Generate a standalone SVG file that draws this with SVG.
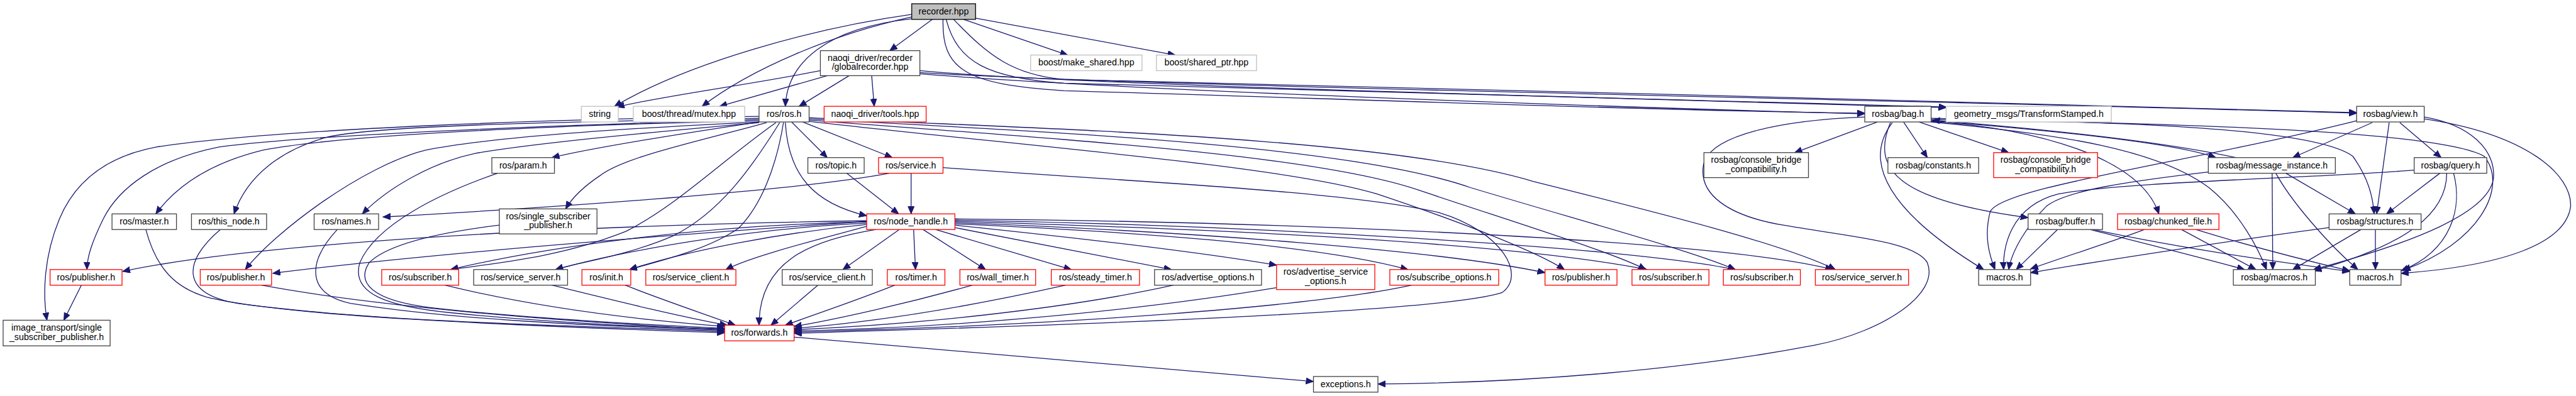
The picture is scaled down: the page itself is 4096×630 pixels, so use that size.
<svg xmlns="http://www.w3.org/2000/svg" width="4096" height="630" viewBox="0 0 4096 630">
<style>
.e{fill:none;stroke:#191970;stroke-width:1.3;marker-end:url(#a)}
.n rect{fill:#fff;stroke-width:1.3}
.k rect{stroke:#404040}
.r rect{stroke:#ff0000}
.g rect{stroke:#bfbfbf}
.root rect{fill:#bfbfbf;stroke:#000}
text{font-family:"Liberation Sans",Arial,sans-serif;font-size:14.3px;text-anchor:middle;fill:#000}
</style>
<defs>
<marker id="a" markerUnits="userSpaceOnUse" markerWidth="14" markerHeight="12" refX="12" refY="5" orient="auto"><path d="M0,0 L12,5 L0,10 z" fill="#191970" stroke="#191970" stroke-width="1"/></marker>
</defs>
<rect width="4096" height="630" fill="#fff"/>
<g transform="scale(0.995)">
<g id="edges">
<path class="e" d="M1490,31 L1422,81"/>
<path class="e" d="M1540,31 L1706,88"/>
<path class="e" d="M1559,29 L1878,88"/>
<path class="e" d="M1457,23 C1300,45 1100,100 982,170"/>
<path class="e" d="M1457,27 C1330,55 1200,110 1122,170"/>
<path class="e" d="M1457,30 C1320,45 1258,100 1255,170"/>
<path class="e" d="M1507,31 C1505,110 1540,135 1700,145 C2200,160 2700,178 2980,181"/>
<path class="e" d="M1512,31 C1530,100 1580,125 1700,133 C2200,148 2900,162 3110,172"/>
<path class="e" d="M1524,31 C1580,90 1620,120 1700,127 C2300,145 3200,160 3766,180"/>
<path class="e" d="M1311,113 C1200,135 1050,155 986,171"/>
<path class="e" d="M1322,121 L1150,170"/>
<path class="e" d="M1357,121 L1277,170"/>
<path class="e" d="M1393,121 L1397,170"/>
<path class="e" d="M1470,118 C1800,145 2600,172 2980,182"/>
<path class="e" d="M1470,113 C1700,135 2500,155 3110,171"/>
<path class="e" d="M1470,116 C1800,138 3000,158 3766,181"/>
<path class="e" d="M1213,186 C900,190 450,205 250,235 C170,250 120,290 95,350 C70,410 68,470 75,512"/>
<path class="e" d="M1213,191 C900,200 500,215 350,235 C250,255 190,300 165,350 C148,385 139,410 139,431"/>
<path class="e" d="M1213,193 C900,200 550,215 420,240 C330,262 280,300 249,342"/>
<path class="e" d="M1213,189 C900,195 600,200 520,220 C450,240 395,280 374,342"/>
<path class="e" d="M1213,195 C1000,205 780,220 680,240 C580,265 440,370 392,431"/>
<path class="e" d="M1213,196 C1000,215 850,230 760,245 C690,260 620,300 579,342"/>
<path class="e" d="M1213,195 C1100,212 950,235 882,252"/>
<path class="e" d="M1225,196 C1120,225 1000,250 960,280 C930,300 912,320 904,334"/>
<path class="e" d="M1240,196 C1150,260 1080,330 1000,370 C900,410 800,420 720,431"/>
<path class="e" d="M1246,196 C1200,270 1150,340 1076,377 C1000,410 920,420 888,431"/>
<path class="e" d="M1252,196 C1240,270 1215,330 1180,365 C1130,400 1050,418 1006,431"/>
<path class="e" d="M1255,196 C1260,280 1300,325 1385,345"/>
<path class="e" d="M1265,195 L1322,252"/>
<path class="e" d="M1283,195 L1426,252"/>
<path class="e" d="M1293,188 C1600,205 2200,215 2450,290 C2650,340 2850,390 2933,431"/>
<path class="e" d="M1293,190 C1650,210 2150,230 2350,300 C2550,360 2700,400 2773,431"/>
<path class="e" d="M1293,192 C1650,220 2100,245 2270,305 C2450,365 2580,405 2630,431"/>
<path class="e" d="M1293,194 C1650,235 2050,265 2200,310 C2350,360 2460,405 2500,431"/>
<path class="e" d="M1456,277 L1456,342"/>
<path class="e" d="M1353,277 L1436,342"/>
<path class="e" d="M1421,277 C1300,300 1000,325 612,347"/>
<path class="e" d="M1507,268 C1800,290 2150,305 2300,340 C2400,370 2440,440 2400,468 C2300,500 1700,520 1269,533"/>
<path class="e" d="M1460,367 L1463,431"/>
<path class="e" d="M1475,367 L1575,431"/>
<path class="e" d="M1495,367 L1712,431"/>
<path class="e" d="M1526,364 L1872,431"/>
<path class="e" d="M1526,360 C1700,378 1900,400 2040,424"/>
<path class="e" d="M1526,358 C1800,370 2100,390 2250,431"/>
<path class="e" d="M1526,356 C1900,370 2300,400 2469,436"/>
<path class="e" d="M1526,354 C1900,365 2400,385 2632,431"/>
<path class="e" d="M1526,352 C2000,360 2600,395 2773,431"/>
<path class="e" d="M1526,350 C2100,355 2750,385 2929,431"/>
<path class="e" d="M1437,367 L1347,431"/>
<path class="e" d="M1385,362 C1300,385 1200,410 1160,431"/>
<path class="e" d="M1385,359 C1250,372 1100,400 1006,431"/>
<path class="e" d="M1385,357 C1200,365 1000,400 888,431"/>
<path class="e" d="M1385,355 C1100,360 850,400 720,431"/>
<path class="e" d="M1385,354 C1000,380 650,410 436,437"/>
<path class="e" d="M1385,353 C900,360 400,390 196,434"/>
<path class="e" d="M1400,367 C1290,385 1213,420 1213,520"/>
<path class="e" d="M233,367 C250,430 280,460 330,475 C450,505 800,520 1158,532"/>
<path class="e" d="M352,367 C290,420 290,470 380,485 C600,515 900,520 1158,530"/>
<path class="e" d="M539,367 C490,420 490,470 560,485 C750,515 1000,522 1158,528"/>
<path class="e" d="M418,456 C600,490 900,515 1158,527"/>
<path class="e" d="M795,277 C700,310 600,360 575,420 C560,470 620,490 720,500 C900,518 1050,523 1158,526"/>
<path class="e" d="M798,360 C700,372 620,390 590,420 C570,450 590,480 690,492 C850,510 1050,520 1158,525"/>
<path class="e" d="M711,456 C850,490 1000,510 1158,522"/>
<path class="e" d="M882,456 C980,480 1080,505 1162,520"/>
<path class="e" d="M999,456 C1060,480 1120,500 1175,520"/>
<path class="e" d="M1307,456 L1232,520"/>
<path class="e" d="M1430,456 C1370,480 1310,500 1255,520"/>
<path class="e" d="M1554,456 C1450,485 1340,510 1269,522"/>
<path class="e" d="M1703,456 C1550,490 1400,515 1269,525"/>
<path class="e" d="M1875,456 C1700,495 1450,520 1269,527"/>
<path class="e" d="M2040,460 C1800,500 1500,525 1269,529"/>
<path class="e" d="M2256,456 C2100,490 1700,520 1269,531"/>
<path class="e" d="M1269,539 C1600,565 1900,595 2099,610"/>
<path class="e" d="M130,456 L102,512"/>
<path class="e" d="M3000,195 L2868,244"/>
<path class="e" d="M3042,195 L3080,252"/>
<path class="e" d="M3067,195 L3210,244"/>
<path class="e" d="M2980,187 C2850,192 2730,215 2722,265 C2715,310 2760,345 2850,360 C2950,378 3060,385 3080,420 C3100,470 3010,530 2900,552 C2700,590 2450,612 2202,614"/>
<path class="e" d="M3024,196 C2975,260 3020,340 3170,431"/>
<path class="e" d="M3021,196 C2990,270 3030,320 3241,348"/>
<path class="e" d="M3086,193 C3300,210 3480,230 3541,252"/>
<path class="e" d="M3573,252 C3450,225 3250,205 3088,192"/>
<path class="e" d="M3086,194 C3250,205 3420,250 3450,342"/>
<path class="e" d="M3086,189 C3400,195 3700,205 3760,250 C3785,285 3792,315 3794,342"/>
<path class="e" d="M3086,195 C3300,215 3450,240 3530,300 C3580,340 3610,400 3622,431"/>
<path class="e" d="M3086,191 C3500,197 3900,210 3970,250 C4010,300 3960,390 3840,432"/>
<path class="e" d="M3791,196 L3664,252"/>
<path class="e" d="M3835,196 L3901,252"/>
<path class="e" d="M3818,196 L3798,342"/>
<path class="e" d="M3766,193 C3500,260 3190,300 3180,340 C3170,380 3180,410 3188,431"/>
<path class="e" d="M3874,187 C3950,200 3985,240 3985,280 C3985,340 3850,390 3697,431"/>
<path class="e" d="M3874,190 C4040,215 4110,280 4108,330 C4100,390 4000,425 3837,437"/>
<path class="e" d="M3899,277 L3814,342"/>
<path class="e" d="M3910,277 C3910,340 3850,390 3698,433"/>
<path class="e" d="M3921,277 C3935,330 3920,400 3837,433"/>
<path class="e" d="M3858,272 C3700,285 3400,290 3290,310 C3210,330 3200,400 3202,431"/>
<path class="e" d="M3631,277 L3632,431"/>
<path class="e" d="M3637,277 C3660,320 3720,390 3768,431"/>
<path class="e" d="M3653,277 L3764,342"/>
<path class="e" d="M3529,275 C3400,290 3300,305 3270,330 C3240,360 3215,400 3210,431"/>
<path class="e" d="M3773,367 L3664,431"/>
<path class="e" d="M3796,367 L3796,431"/>
<path class="e" d="M3722,364 C3600,380 3400,410 3245,436"/>
<path class="e" d="M3427,367 C3380,385 3300,410 3245,430"/>
<path class="e" d="M3486,367 L3605,431"/>
<path class="e" d="M3509,367 C3600,395 3700,420 3755,433"/>
<path class="e" d="M3288,367 L3222,431"/>
<path class="e" d="M3340,367 C3450,395 3530,415 3587,431"/>
<path class="e" d="M3345,367 C3500,400 3650,420 3755,434"/>
</g>
<g id="rec" class="n root"><rect x="1457" y="6" width="102" height="25"/><text x="1508" y="23">recorder.hpp</text></g>
<g id="glob" class="n k"><rect x="1311" y="81" width="159" height="40"/><text x="1390.5" y="97.5">naoqi_driver/recorder</text><text x="1390.5" y="112">/globalrecorder.hpp</text></g>
<g id="mks" class="n g"><rect x="1647" y="88" width="178" height="25"/><text x="1736" y="105">boost/make_shared.hpp</text></g>
<g id="shp" class="n g"><rect x="1848" y="88" width="160" height="25"/><text x="1928" y="105">boost/shared_ptr.hpp</text></g>
<g id="str" class="n g"><rect x="929" y="170" width="59" height="25"/><text x="958.5" y="187">string</text></g>
<g id="mtx" class="n g"><rect x="1012" y="170" width="178" height="25"/><text x="1101" y="187">boost/thread/mutex.hpp</text></g>
<g id="ros" class="n k"><rect x="1213" y="170" width="80" height="25"/><text x="1253" y="187">ros/ros.h</text></g>
<g id="tools" class="n r"><rect x="1317" y="170" width="163" height="25"/><text x="1398.5" y="187">naoqi_driver/tools.hpp</text></g>
<g id="bag" class="n k"><rect x="2980" y="170" width="106" height="25"/><text x="3033" y="187">rosbag/bag.h</text></g>
<g id="geo" class="n g"><rect x="3110" y="170" width="264" height="25"/><text x="3242" y="187">geometry_msgs/TransformStamped.h</text></g>
<g id="view" class="n k"><rect x="3766" y="170" width="108" height="25"/><text x="3820" y="187">rosbag/view.h</text></g>
<g id="param" class="n k"><rect x="786" y="252" width="100" height="25"/><text x="836" y="269">ros/param.h</text></g>
<g id="topic" class="n k"><rect x="1291" y="252" width="90" height="25"/><text x="1336" y="269">ros/topic.h</text></g>
<g id="service" class="n r"><rect x="1404" y="252" width="103" height="25"/><text x="1455.5" y="269">ros/service.h</text></g>
<g id="cbc1" class="n k"><rect x="2723" y="244" width="167" height="40"/><text x="2806.5" y="260.5">rosbag/console_bridge</text><text x="2806.5" y="275">_compatibility.h</text></g>
<g id="const" class="n k"><rect x="3017" y="252" width="145" height="25"/><text x="3089.5" y="269">rosbag/constants.h</text></g>
<g id="cbc2" class="n r"><rect x="3186" y="244" width="166" height="40"/><text x="3269" y="260.5">rosbag/console_bridge</text><text x="3269" y="275">_compatibility.h</text></g>
<g id="msgi" class="n k"><rect x="3529" y="252" width="203" height="25"/><text x="3630.5" y="269">rosbag/message_instance.h</text></g>
<g id="query" class="n k"><rect x="3858" y="252" width="116" height="25"/><text x="3916" y="269">rosbag/query.h</text></g>
<g id="master" class="n k"><rect x="179" y="342" width="103" height="25"/><text x="230.5" y="359">ros/master.h</text></g>
<g id="thisnode" class="n k"><rect x="306" y="342" width="120" height="25"/><text x="366" y="359">ros/this_node.h</text></g>
<g id="names" class="n k"><rect x="502" y="342" width="103" height="25"/><text x="553.5" y="359">ros/names.h</text></g>
<g id="ssp" class="n k"><rect x="798" y="334" width="156" height="40"/><text x="876" y="350.5">ros/single_subscriber</text><text x="876" y="365">_publisher.h</text></g>
<g id="nh" class="n r"><rect x="1385" y="342" width="141" height="25"/><text x="1455.5" y="359">ros/node_handle.h</text></g>
<g id="buf" class="n k"><rect x="3241" y="342" width="119" height="25"/><text x="3300.5" y="359">rosbag/buffer.h</text></g>
<g id="chunk" class="n r"><rect x="3384" y="342" width="162" height="25"/><text x="3465" y="359">rosbag/chunked_file.h</text></g>
<g id="struct" class="n k"><rect x="3722" y="342" width="147" height="25"/><text x="3795.5" y="359">rosbag/structures.h</text></g>
<g id="pub1" class="n r"><rect x="80" y="431" width="115" height="25"/><text x="137.5" y="448">ros/publisher.h</text></g>
<g id="pub2" class="n r"><rect x="320" y="431" width="114" height="25"/><text x="377" y="448">ros/publisher.h</text></g>
<g id="sub1" class="n r"><rect x="610" y="431" width="123" height="25"/><text x="671.5" y="448">ros/subscriber.h</text></g>
<g id="ss1" class="n k"><rect x="757" y="431" width="150" height="25"/><text x="832" y="448">ros/service_server.h</text></g>
<g id="init" class="n r"><rect x="930" y="431" width="78" height="25"/><text x="969" y="448">ros/init.h</text></g>
<g id="sc1" class="n r"><rect x="1032" y="431" width="144" height="25"/><text x="1104" y="448">ros/service_client.h</text></g>
<g id="sc2" class="n k"><rect x="1250" y="431" width="144" height="25"/><text x="1322" y="448">ros/service_client.h</text></g>
<g id="timer" class="n r"><rect x="1418" y="431" width="92" height="25"/><text x="1464" y="448">ros/timer.h</text></g>
<g id="wall" class="n r"><rect x="1534" y="431" width="121" height="25"/><text x="1594.5" y="448">ros/wall_timer.h</text></g>
<g id="steady" class="n r"><rect x="1680" y="431" width="141" height="25"/><text x="1750.5" y="448">ros/steady_timer.h</text></g>
<g id="adv" class="n k"><rect x="1845" y="431" width="171" height="25"/><text x="1930.5" y="448">ros/advertise_options.h</text></g>
<g id="advs" class="n r"><rect x="2040" y="423" width="157" height="40"/><text x="2118.5" y="439.5">ros/advertise_service</text><text x="2118.5" y="454">_options.h</text></g>
<g id="subopt" class="n r"><rect x="2221" y="431" width="174" height="25"/><text x="2308" y="448">ros/subscribe_options.h</text></g>
<g id="pub3" class="n r"><rect x="2469" y="431" width="115" height="25"/><text x="2526.5" y="448">ros/publisher.h</text></g>
<g id="sub2" class="n r"><rect x="2608" y="431" width="123" height="25"/><text x="2669.5" y="448">ros/subscriber.h</text></g>
<g id="sub3" class="n r"><rect x="2754" y="431" width="123" height="25"/><text x="2815.5" y="448">ros/subscriber.h</text></g>
<g id="ss2" class="n r"><rect x="2901" y="431" width="149" height="25"/><text x="2975.5" y="448">ros/service_server.h</text></g>
<g id="mac1" class="n k"><rect x="3162" y="431" width="83" height="25"/><text x="3203.5" y="448">macros.h</text></g>
<g id="rmac" class="n k"><rect x="3569" y="431" width="131" height="25"/><text x="3634.5" y="448">rosbag/macros.h</text></g>
<g id="mac2" class="n k"><rect x="3755" y="431" width="82" height="25"/><text x="3796" y="448">macros.h</text></g>
<g id="img" class="n k"><rect x="5" y="512" width="171" height="41"/><text x="90.5" y="529">image_transport/single</text><text x="90.5" y="543.5">_subscriber_publisher.h</text></g>
<g id="fwd" class="n r"><rect x="1158" y="520" width="111" height="25"/><text x="1213.5" y="537">ros/forwards.h</text></g>
<g id="exc" class="n k"><rect x="2099" y="602" width="103" height="25"/><text x="2150.5" y="619">exceptions.h</text></g>
</g>
</svg>
